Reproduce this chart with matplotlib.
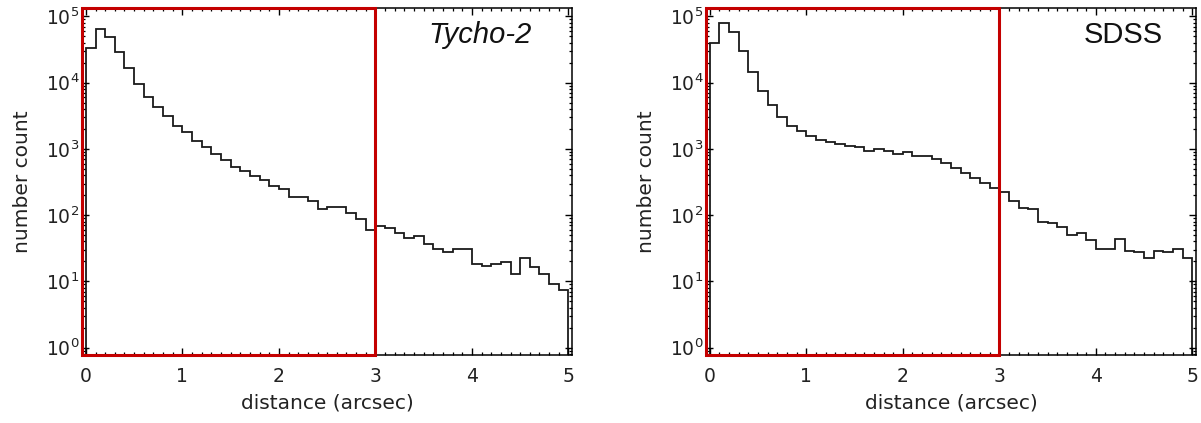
import numpy as np
import matplotlib
matplotlib.use("Agg")
import matplotlib.pyplot as plt
from matplotlib.patches import Rectangle
from matplotlib.ticker import LogLocator, MultipleLocator, LogFormatterSciNotation
import matplotlib.transforms as mtransforms

plt.rcParams["font.family"] = ["DejaVu Sans"]
plt.rcParams["mathtext.default"] = "regular"

# Histogram bins of cross-match distance (arcsec), 0.1" wide
bin_edges = np.linspace(0.0, 5.0, 51)

tycho2_counts = [
    33400, 64600, 49000, 28600, 16700, 9660, 6170, 4290, 3100, 2240,
    1780, 1300, 1055, 850, 670, 527, 458, 386, 344, 279,
    248, 186, 186, 166, 125, 131, 134, 108, 88, 60,
    69, 65, 54, 45, 49, 37, 31, 27.5, 31, 31,
    18.3, 17.3, 18.3, 19.4, 13.1, 22.8, 16.3, 13.1, 9.2, 7.3,
]

sdss_counts = [
    39400, 78900, 58900, 30100, 14700, 7570, 4560, 3040, 2220, 1850,
    1570, 1360, 1290, 1190, 1110, 1070, 930, 980, 940, 840,
    895, 783, 770, 698, 607, 510, 438, 361, 303, 257,
    222, 166, 127, 123, 80, 75, 67, 50, 53, 42,
    31, 31, 44, 29, 27.6, 22.8, 28.9, 27.6, 31, 22.8,
]

panel_labels = ["Tycho-2", "SDSS"]
cut_radius = 3.0

x_lim = (-0.04, 5.04)
y_lim = (0.76, 1.34e5)

fig = plt.figure(figsize=(12.01, 4.23), dpi=100)
ax_left = fig.add_axes([0.0683, 0.1596, 0.4082, 0.8215])
ax_right = fig.add_axes([0.5878, 0.1596, 0.4082, 0.8215])

red = "#c40000"

for ax, counts, label in [(ax_left, tycho2_counts, panel_labels[0]),
                          (ax_right, sdss_counts, panel_labels[1])]:
    ax.set_yscale("log")
    ax.stairs(counts, bin_edges, baseline=y_lim[0], color="#1a1a1a", lw=1.3)
    ax.set_xlim(*x_lim)
    ax.set_ylim(*y_lim)

    ax.xaxis.set_major_locator(MultipleLocator(1))
    ax.xaxis.set_minor_locator(MultipleLocator(0.1))
    ax.yaxis.set_major_locator(LogLocator(base=10, numticks=10))
    ax.yaxis.set_minor_locator(LogLocator(base=10, subs=np.arange(2, 10), numticks=10))
    ax.yaxis.set_major_formatter(LogFormatterSciNotation())

    ax.tick_params(which="both", direction="in", top=True, right=True, color="black")
    ax.tick_params(which="major", length=5, width=1.0)
    ax.tick_params(which="minor", length=2.5, width=0.9)
    ax.tick_params(axis="x", which="major", labelsize=13.5, pad=8)
    ax.tick_params(axis="y", which="major", labelsize=13.5, pad=2)
    for t in ax.get_xticklabels() + ax.get_yticklabels():
        t.set_color("#222222")

    for sp in ax.spines.values():
        sp.set_linewidth(1.1)
        sp.set_color("black")

    ax.set_xlabel("distance (arcsec)", fontsize=14.5, labelpad=6, color="#222222")
    ax.set_ylabel("number count", fontsize=14.5, labelpad=10, color="#222222")

    # Selection region: distances below the matching radius
    trans = mtransforms.blended_transform_factory(ax.transData, ax.transAxes)
    ax.add_patch(Rectangle((x_lim[0], 0.0), cut_radius - x_lim[0], 1.0,
                           transform=trans, fill=False, edgecolor=red,
                           lw=2.2, clip_on=False, zorder=5))

ax_left.text(0.918, 0.900, panel_labels[0], transform=ax_left.transAxes,
             ha="right", va="baseline", fontsize=21, style="italic",
             family=["Liberation Sans", "DejaVu Sans"], color="#111111")
ax_right.text(0.932, 0.900, panel_labels[1], transform=ax_right.transAxes,
              ha="right", va="baseline", fontsize=21,
              family=["Liberation Sans", "DejaVu Sans"], color="#111111")

fig.savefig("out.png", dpi=100)
